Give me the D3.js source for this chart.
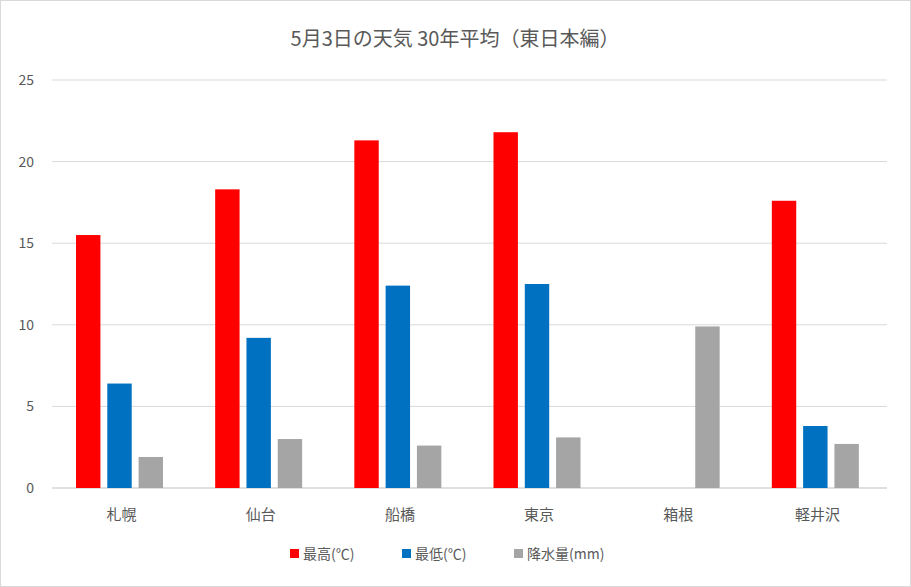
<!DOCTYPE html><html><head><meta charset="utf-8"><script src="https://cdn.jsdelivr.net/npm/d3@7"></script>
<style>body{margin:0;background:#fff}svg{font-family:"Noto Sans CJK JP","Noto Sans",sans-serif}</style></head><body><svg id="c" width="911" height="587"></svg><script>
const categories=["札幌","仙台","船橋","東京","箱根","軽井沢"];
const seriesNames=["最高(℃)","最低(℃)","降水量(mm)"];
const maxT=[15.5,18.3,21.3,21.8,null,17.6];
const minT=[6.4,9.2,12.4,12.5,null,3.8];
const rain=[1.9,3.0,2.6,3.1,9.9,2.7];
const yTicks=[0,5,10,15,20,25];
const colors=["#ff0000","#0070c0","#a5a5a5"];
const series=[maxT,minT,rain];
const svg=d3.select("#c");
svg.append("rect").attr("x",0.5).attr("y",0.5).attr("width",910).attr("height",586).attr("fill","#fff").attr("stroke","#d9d9d9");
svg.append("text").attr("x",455).attr("y",46).attr("text-anchor","middle").attr("font-size",20).attr("fill","#595959").text("5月3日の天気  30年平均（東日本編）");
const x=d3.scaleBand().domain(categories).range([52,887]);
const y=d3.scaleLinear().domain([0,25]).range([488,80]);
const inner=d3.scaleBand().domain([0,1,2]).range([24,111]).paddingInner(0.22);
svg.append("g").selectAll("line").data(yTicks).join("line").attr("x1",52).attr("x2",887).attr("y1",d=>y(d)).attr("y2",d=>y(d)).attr("stroke",d=>d===0?"#bfbfbf":"#d9d9d9");
svg.append("g").selectAll("text").data(yTicks).join("text").attr("x",34).attr("y",d=>y(d)+5).attr("text-anchor","end").attr("font-size",14).attr("fill","#595959").text(d=>d);
series.forEach((s,i)=>{svg.append("g").selectAll("rect").data(categories.map((c,j)=>({c,v:s[j]})).filter(d=>d.v!=null)).join("rect")
.attr("x",d=>x(d.c)+inner(i)).attr("width",inner.bandwidth()).attr("y",d=>y(d.v)).attr("height",d=>y(0)-y(d.v)).attr("fill",colors[i]);});
svg.append("g").selectAll("text").data(categories).join("text").attr("x",d=>x(d)+x.bandwidth()/2).attr("y",520).attr("text-anchor","middle").attr("font-size",15).attr("fill","#595959").text(d=>d);
const lx=[290,402,514];
seriesNames.forEach((n,i)=>{svg.append("rect").attr("x",lx[i]).attr("y",549).attr("width",9).attr("height",9).attr("fill",colors[i]);
svg.append("text").attr("x",lx[i]+13).attr("y",559).attr("font-size",14).attr("fill","#595959").text(n);});
</script></body></html>
